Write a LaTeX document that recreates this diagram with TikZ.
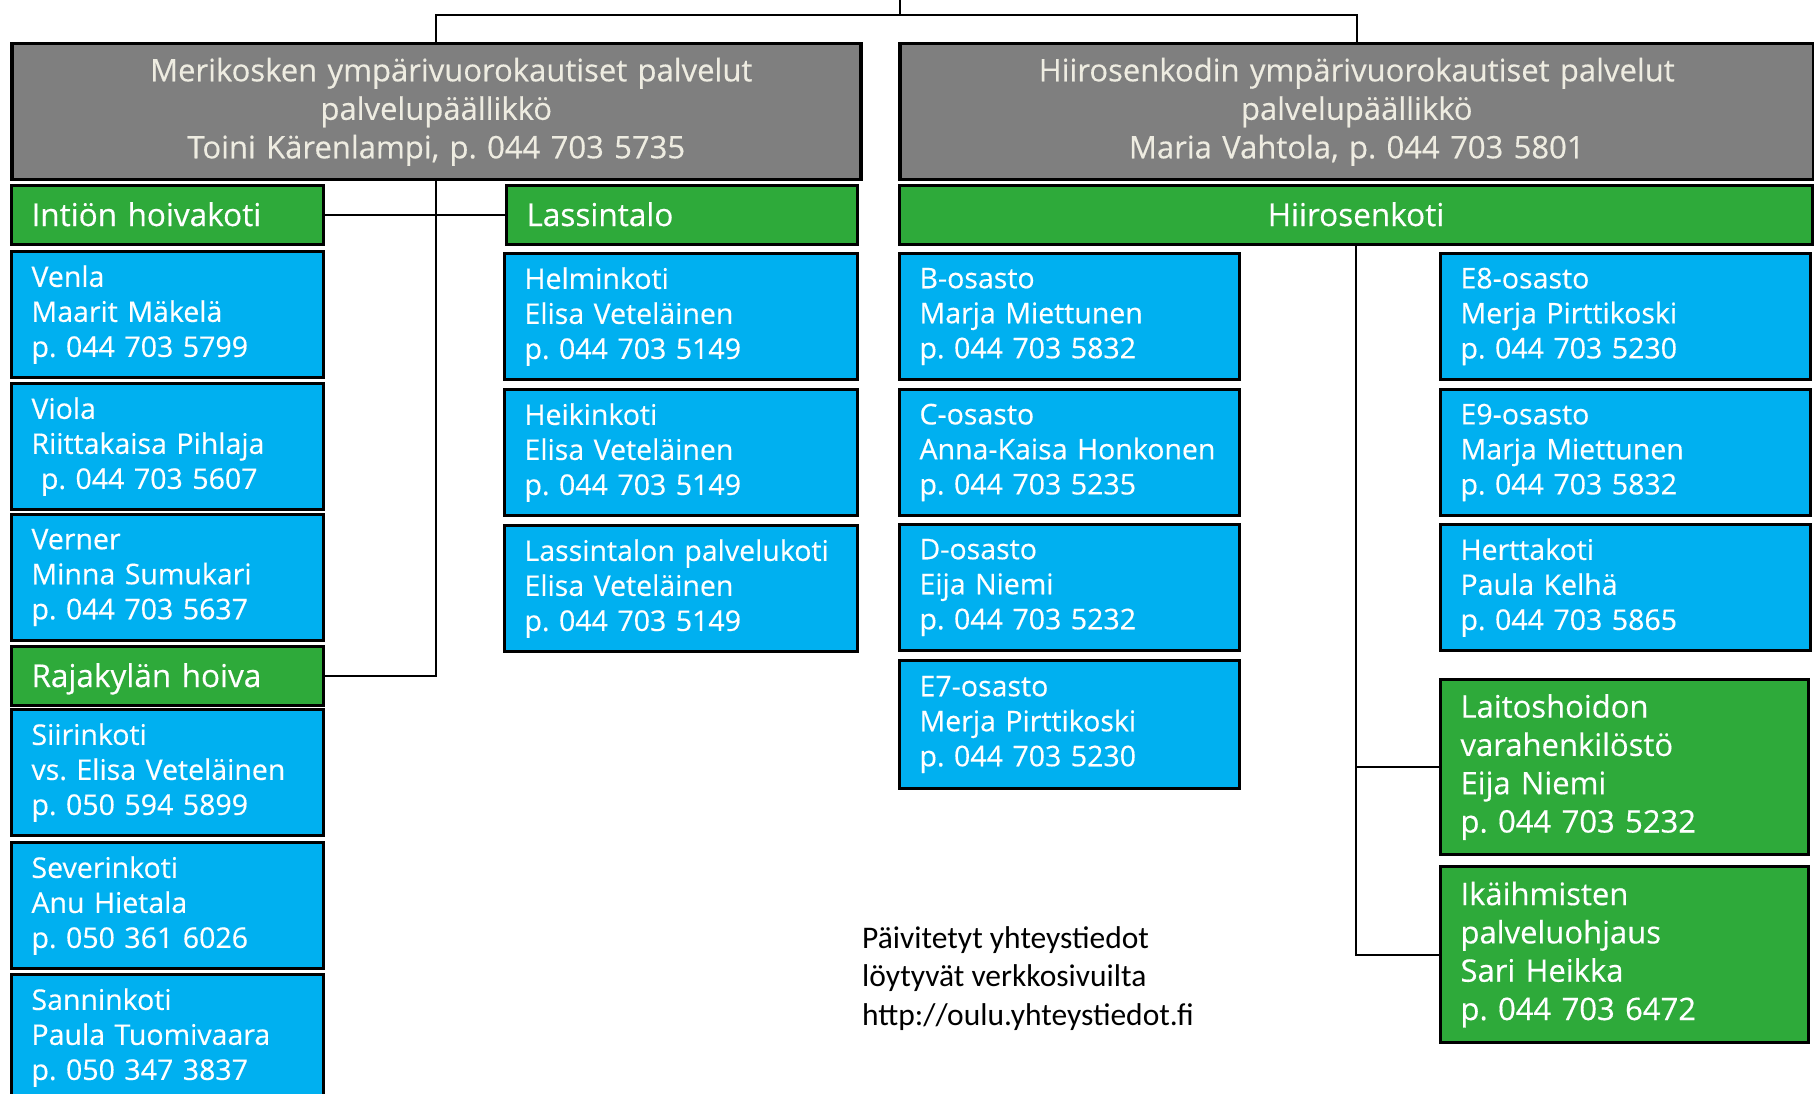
\documentclass[tikz,border=0pt]{standalone}
\usepackage{fontspec}
\setmainfont{Open Sans}[FakeBold=0.4]
\newfontfamily\notefont{Carlito}
\frenchspacing
\definecolor{boxgray}{RGB}{127,127,127}
\definecolor{boxgreen}{RGB}{46,170,58}
\definecolor{boxblue}{RGB}{0,176,240}
\definecolor{titletext}{RGB}{238,236,225}

\begin{document}
\begin{tikzpicture}[x=1pt,y=-1pt,
		title/.style={draw=black, line width=3.5pt, fill=boxgray, text=titletext, anchor=north west, align=center, inner xsep=20pt, inner ysep=0pt, minimum height=136pt, font=\fontsize{31}{38.5}\selectfont},
		head/.style={draw=black, line width=3pt, fill=boxgreen, text=white, anchor=north west, align=left, inner xsep=20pt, inner ysep=0pt, minimum height=59pt, text height=24pt, text depth=2pt, font=\fontsize{31.5}{38}\selectfont},
		unit/.style={draw=black, line width=3pt, fill=boxblue, text=white, anchor=north west, align=left, inner xsep=20pt, inner ysep=0pt, minimum height=126pt, font=\fontsize{28.5}{35}\selectfont},
		staff/.style={draw=black, line width=3pt, fill=boxgreen, text=white, anchor=north west, align=left, inner xsep=20pt, inner ysep=0pt, font=\fontsize{31}{38.3}\selectfont},
		link/.style={draw=black, line width=2pt}]
		\useasboundingbox (0,0) rectangle (1814,1094);
		\clip (0,0) rectangle (1814,1094);
		% palvelut
		\node[title, text width=809pt] (mpal) at (10,42) {\hspace*{30pt}Merikosken ympärivuorokautiset palvelut\\ palvelupäällikkö\\ Toini Kärenlampi, p. 044 703 5735};
		\node[title, text width=874pt] (hpal) at (898,42) {Hiirosenkodin ympärivuorokautiset palvelut\\ palvelupäällikkö\\ Maria Vahtola, p. 044 703 5801};
		% yksiköt
		\node[head, text width=272pt] (intio) at (10,184) {Intiön hoivakoti};
		\node[head, text width=311pt] (lassi) at (505,184) {Lassintalo};
		\node[head, text width=873pt, align=center] (hkoti) at (898,184) {Hiirosenkoti};
		\node[head, text width=272pt] (raja) at (10,645) {Rajakylän hoiva};
		% vasen sarake
		\node[unit, text width=272pt] (venla) at (10,250) {Venla\\ Maarit Mäkelä\\ p. 044 703 5799};
		\node[unit, text width=272pt] (viola) at (10,382) {Viola\\ Riittakaisa Pihlaja\\ \ p. 044 703 5607};
		\node[unit, text width=272pt] (verner) at (10,513) {Verner\\ Minna Sumukari\\ p. 044 703 5637};
		\node[unit, text width=272pt] (siiri) at (10,708) {Siirinkoti\\ vs. Elisa Veteläinen\\ p. 050 594 5899};
		\node[unit, text width=272pt] (severi) at (10,841) {Severinkoti\\ Anu Hietala\\ p. 050 361 6026};
		\node[unit, text width=272pt] (sanni) at (10,973) {Sanninkoti\\ Paula Tuomivaara\\ p. 050 347 3837};
		% Lassintalo
		\node[unit, text width=313pt] (helmi) at (503,252) {Helminkoti\\ Elisa Veteläinen\\ p. 044 703 5149};
		\node[unit, text width=313pt] (heikki) at (503,388) {Heikinkoti\\ Elisa Veteläinen\\ p. 044 703 5149};
		\node[unit, text width=313pt] (lpk) at (503,524) {Lassintalon palvelukoti\\ Elisa Veteläinen\\ p. 044 703 5149};
		% Hiirosenkoti
		\node[unit, text width=300pt] (bos) at (898,252) {B-osasto\\ Marja Miettunen\\ p. 044 703 5832};
		\node[unit, text width=300pt] (cos) at (898,388) {C-osasto\\ Anna-Kaisa Honkonen\\ p. 044 703 5235};
		\node[unit, text width=300pt] (dos) at (898,523) {D-osasto\\ Eija Niemi\\ p. 044 703 5232};
		\node[unit, text width=300pt, minimum height=128pt] (esev) at (898,659) {E7-osasto\\ Merja Pirttikoski\\ p. 044 703 5230};
		\node[unit, text width=330pt] (eeig) at (1439,252) {E8-osasto\\ Merja Pirttikoski\\ p. 044 703 5230};
		\node[unit, text width=330pt] (enin) at (1439,388) {E9-osasto\\ Marja Miettunen\\ p. 044 703 5832};
		\node[unit, text width=330pt] (hertta) at (1439,523) {Herttakoti\\ Paula Kelhä\\ p. 044 703 5865};
		\node[staff, text width=328pt, minimum height=175pt] (laitos) at (1439,678) {Laitoshoidon\\ varahenkilöstö\\ Eija Niemi\\ p. 044 703 5232};
		\node[staff, text width=328pt, minimum height=176pt] (ika) at (1439,865) {Ikäihmisten\\ palveluohjaus\\ Sari Heikka\\ p. 044 703 6472};
		\node[font=\notefont\fontsize{31.5}{38.5}\selectfont, align=left, anchor=north west, inner sep=0pt] (note) at (862,926) {Päivitetyt yhteystiedot\\ löytyvät verkkosivuilta\\ http://oulu.yhteystiedot.fi};
		% viivat
		\coordinate (root) at (900,0);
		\coordinate (bus) at (900,15);
		\draw[link] (root) -- (bus);
		\draw[link] (mpal.north) |- (bus) -| (hpal.north);
		\draw[link] (intio) -- (lassi);
		\draw[link] (mpal.south) |- (raja.east);
		\draw[link] (hkoti.south) |- (laitos.west);
		\draw[link] (hkoti.south) |- (ika.west);
	\end{tikzpicture}
\end{document}
